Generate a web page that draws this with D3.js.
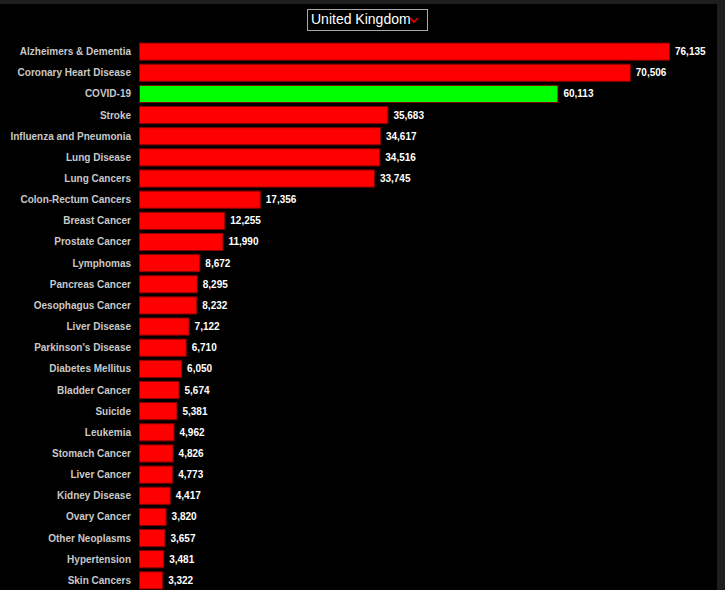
<!DOCTYPE html>
<html>
<head>
<meta charset="utf-8">
<script src="https://cdn.jsdelivr.net/npm/d3@7"></script>
<style>
  body { margin: 0; background: #000; overflow: hidden; }
  #chart { position: absolute; left: 0; top: 0; }
</style>
</head>
<body>
<div id="chart"></div>
<script>
const causes = ["Alzheimers & Dementia", "Coronary Heart Disease", "COVID-19", "Stroke",
  "Influenza and Pneumonia", "Lung Disease", "Lung Cancers", "Colon-Rectum Cancers",
  "Breast Cancer", "Prostate Cancer", "Lymphomas", "Pancreas Cancer", "Oesophagus Cancer",
  "Liver Disease", "Parkinson's Disease", "Diabetes Mellitus", "Bladder Cancer", "Suicide",
  "Leukemia", "Stomach Cancer", "Liver Cancer", "Kidney Disease", "Ovary Cancer",
  "Other Neoplasms", "Hypertension", "Skin Cancers"];
const deaths = [76135, 70506, 60113, 35683, 34617, 34516, 33745, 17356, 12255, 11990,
  8672, 8295, 8232, 7122, 6710, 6050, 5674, 5381, 4962, 4826, 4773, 4417, 3820, 3657, 3481, 3322];
const highlight = "COVID-19";
const country = "United Kingdom";

const W = 725, H = 590;
const svg = d3.select("#chart").append("svg").attr("width", W).attr("height", H);

// frame strips
svg.append("rect").attr("x", 0).attr("y", 0).attr("width", W).attr("height", 4).attr("fill", "#1e1e1e");
svg.append("rect").attr("x", 717).attr("y", 0).attr("width", 8).attr("height", H).attr("fill", "#1e1e1e");

// dropdown
const dd = svg.append("g").attr("transform", "translate(307,9)");
dd.append("rect").attr("width", 120).attr("height", 21).attr("fill", "#000")
  .attr("stroke", "#aaa").attr("stroke-width", 1).attr("x", 0.5).attr("y", 0.5);
dd.append("text").attr("x", 4).attr("y", 15).attr("fill", "#fff")
  .style("font", "14px 'Liberation Sans', Arial, sans-serif").text(country);
dd.append("path").attr("d", "M103,9 L107,13 L111,9").attr("fill", "none")
  .attr("stroke", "#e00").attr("stroke-width", 1.6);

const x = d3.scaleLinear().domain([0, 76135]).range([139, 669]);
const y = d3.scaleBand().domain(causes).range([42, 590]).paddingInner(0.19).paddingOuter(0.05);

const data = causes.map((c, i) => ({ cause: c, value: deaths[i] }));

svg.selectAll(".bar").data(data).enter().append("rect")
  .attr("x", x(0) + 0.5)
  .attr("y", d => y(d.cause))
  .attr("width", d => x(d.value) - x(0))
  .attr("height", y.bandwidth())
  .attr("fill", d => d.cause === highlight ? "#00ff00" : "#ff0000")
  .attr("stroke", "#8b0000").attr("stroke-width", 1);

svg.selectAll(".lbl").data(data).enter().append("text")
  .attr("x", 131)
  .attr("y", d => y(d.cause) + y.bandwidth() / 2)
  .attr("dy", "0.35em").attr("text-anchor", "end")
  .attr("fill", "#c8c8c8")
  .style("font", "bold 10px 'Liberation Sans', Arial, sans-serif")
  .text(d => d.cause);

svg.selectAll(".val").data(data).enter().append("text")
  .attr("x", d => x(d.value) + 6)
  .attr("y", d => y(d.cause) + y.bandwidth() / 2)
  .attr("dy", "0.35em")
  .attr("fill", "#fff")
  .style("font", "bold 10px 'Liberation Sans', Arial, sans-serif")
  .text(d => d3.format(",")(d.value));
</script>
</body>
</html>
